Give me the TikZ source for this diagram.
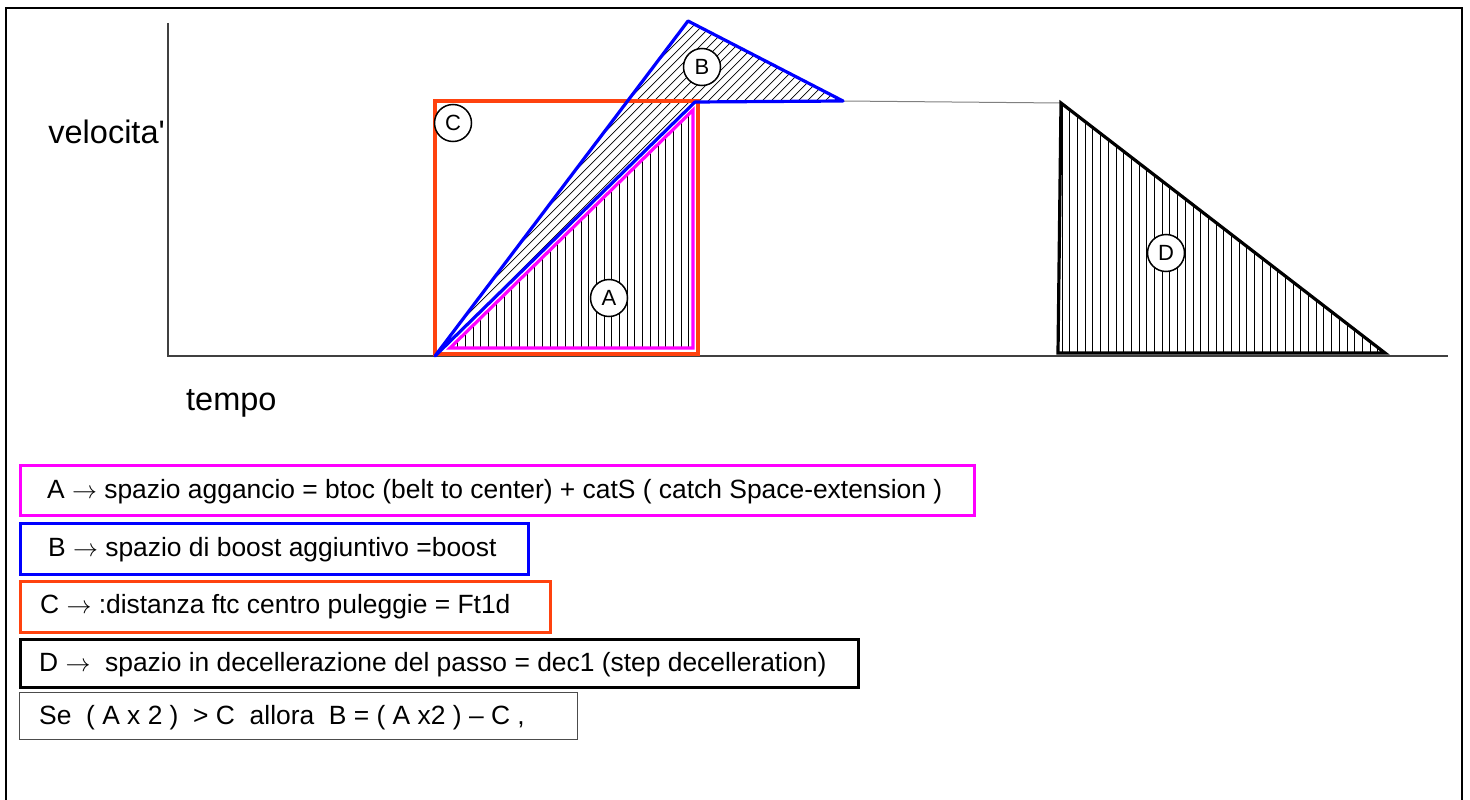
\documentclass[tikz,border=0pt]{standalone}
\usepackage{fontspec}
\setmainfont{Liberation Sans}
\definecolor{cMag}{HTML}{FF00FF}
\definecolor{cBlue}{HTML}{0000FF}
\definecolor{cRed}{HTML}{FF420E}
\definecolor{cAxis}{HTML}{404040}
\newcommand{\myarr}{\ensuremath{\rightarrow}}
\begin{document}
\begin{tikzpicture}[x=1pt,y=-1pt,
  lbl/.style={circle, draw=black, line width=1.5pt, fill=white, minimum size=37pt, inner sep=0pt, font=\fontsize{22}{22}\selectfont},
  legbox/.style={draw, line width=3.2pt, anchor=north west, inner sep=0pt},
  legtxt/.style={anchor=base west, inner sep=0pt, font=\fontsize{26.4}{30}\selectfont},
  axlbl/.style={inner sep=0pt, font=\fontsize{32.5}{36}\selectfont},
  hatchline/.style={black, line width=0.7pt},
  frame/.style={black, line width=1.6pt}]
\useasboundingbox (0,0) rectangle (1470,800);
% frame
\coordinate (f1) at (6,800);
\coordinate (f2) at (6,8);
\coordinate (f3) at (1462,8);
\coordinate (f4) at (1462,800);
\draw[frame] (f1) -- (f2) -- (f3) -- (f4);
% axes
\coordinate (yTop) at (168,23);
\coordinate (org) at (168,356);
\coordinate (xEnd) at (1448,356);
\draw[cAxis, line width=1.3pt] (yTop) -- (org) -- (xEnd);
\node[axlbl, anchor=base east] (vel) at (165,143) {velocita\textquotesingle};
\node[axlbl, anchor=base west] (tempo) at (186,410) {tempo};
% key points
\coordinate (a1) at (450,348);
\coordinate (a2) at (693,110);
\coordinate (a3) at (693,348);
\coordinate (b0) at (435,356);
\coordinate (b1) at (688,21);
\coordinate (b2) at (843,101);
\coordinate (b3) at (695,102);
\coordinate (d1) at (1061,103);
\coordinate (d2) at (1058,353);
\coordinate (d3) at (1385,353);
% hatch A
\begin{scope}
  \clip (a1) -- (a2) -- (a3) -- cycle;
  \foreach \x in {450,457.7,...,700} \draw[hatchline] (\x,100) -- (\x,360);
\end{scope}
% hatch D
\begin{scope}
  \clip (d1) -- (d2) -- (d3) -- cycle;
  \foreach \x in {1062,1069.7,...,1390} \draw[hatchline] (\x,95) -- (\x,360);
\end{scope}
% hatch B
\begin{scope}
  \clip (b0) -- (b1) -- (b2) -- (b3) -- cycle;
  \foreach \x in {40,49,...,860} \draw[hatchline] (\x,400) -- ++(400,-400);
\end{scope}
% thin gray line
\draw[gray, line width=1pt] (b2) -- (d1);
% C rectangle
\draw[cRed, line width=3.2pt] (435,101) rectangle (698,354);
% A triangle
\draw[cMag, line width=3.2pt] (a1) -- (a2) -- (a3) -- cycle;
% B shape
\draw[cBlue, line width=3.2pt, line join=round] (b0) -- (b1) -- (b2) -- (b3) -- cycle;
% D triangle
\draw[black, line width=3.2pt] (d1) -- (d2) -- (d3) -- cycle;
% circle labels
\node[lbl] (lA) at (609,298) {A};
\node[lbl] (lB) at (702,67) {B};
\node[lbl] (lC) at (453,123) {C};
\node[lbl] (lD) at (1166,253) {D};
% legend
\node[legbox, draw=cMag, minimum width=954pt, minimum height=50pt] (boxA) at (19,464) {};
\node[legbox, draw=cBlue, minimum width=508pt, minimum height=51pt] (boxB) at (19,522) {};
\node[legbox, draw=cRed, minimum width=530pt, minimum height=51pt] (boxC) at (19,580) {};
\node[legbox, draw=black, minimum width=838pt, minimum height=48pt] (boxD) at (19,638) {};
\node[legbox, draw=black!70, line width=1pt, minimum width=558pt, minimum height=47pt] (boxE) at (19,692) {};
\node[legtxt] (tA) at (47,498) {A \myarr{} spazio aggancio = btoc (belt to center) + catS ( catch Space-extension )};
\node[legtxt] (tB) at (48,556) {B \myarr{} spazio di boost aggiuntivo =boost};
\node[legtxt] (tC) at (40,613) {C \myarr{} :distanza ftc centro puleggie = Ft1d};
\node[legtxt] (tD) at (39,671) {D \myarr{}\ \ spazio in decellerazione del passo = dec1 (step decelleration)};
\node[legtxt] (tE) at (39,724) {Se\ \ ( A x 2 )\ \ > C\ \ allora\ \ B = ( A x2 ) – C ,};
\end{tikzpicture}
\end{document}
